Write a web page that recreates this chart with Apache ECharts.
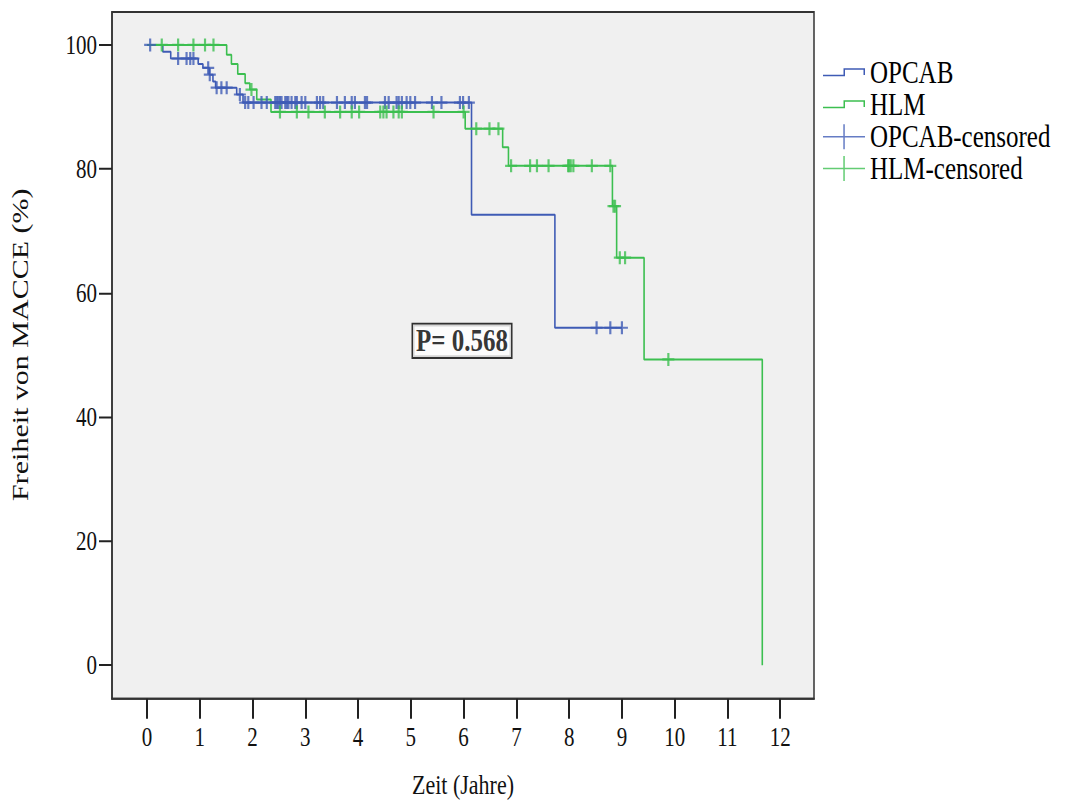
<!DOCTYPE html>
<html><head><meta charset="utf-8">
<script src="https://cdn.jsdelivr.net/npm/echarts@6/dist/echarts.min.js"></script>
<style>
html,body{margin:0;padding:0;background:#fff;width:1078px;height:805px;overflow:hidden;}
#wrap{position:relative;width:1078px;height:805px;overflow:hidden;}
#chart{position:absolute;left:0;top:0;width:1078px;height:644px;transform:scaleY(1.25);transform-origin:0 0;}
</style></head><body><div id="wrap"><div id="chart"></div></div>
<script>
// ---- data ----
const xTicks = [0,1,2,3,4,5,6,7,8,9,10,11,12];
const yTicks = [0,20,40,60,80,100];
const seriesNames = ['OPCAB','HLM','OPCAB-censored','HLM-censored'];
// Kaplan-Meier steps [time (years), survival %]
const opcabSteps = [[0,100],[0.30,98.9],[0.45,97.8],[0.97,96.9],[1.06,96.3],[1.18,95.2],[1.25,94.1],[1.30,93.1],[1.70,92.0],[1.82,90.7],[6.15,72.6],[7.73,54.4],[9.00,54.4]];
const hlmSteps = [[0,100],[1.51,98.4],[1.60,96.9],[1.72,95.3],[1.86,93.8],[1.95,92.8],[2.08,91.2],[2.35,89.2],[6.03,86.5],[6.74,83.5],[6.85,80.5],[8.82,74.0],[8.90,65.7],[9.42,49.3],[11.66,0]];
// censored observations [time, survival %]
const opcabCensored = [[0.06,100],[0.59,97.8],[0.75,97.8],[0.82,97.8],[0.88,97.8],[1.16,96.3],[1.19,95.2],[1.32,93.1],[1.41,93.1],[1.51,93.1],[1.76,92.0],
 [1.86,90.7],[1.92,90.7],[2.02,90.7],[2.17,90.7],[2.27,90.7],[2.43,90.7],[2.46,90.7],[2.49,90.7],[2.52,90.7],[2.55,90.7],[2.62,90.7],[2.65,90.7],[2.68,90.7],[2.74,90.7],[2.81,90.7],[2.84,90.7],[2.93,90.7],[3.00,90.7],[3.22,90.7],[3.28,90.7],[3.34,90.7],[3.60,90.7],[3.75,90.7],[3.88,90.7],[3.94,90.7],[4.13,90.7],[4.17,90.7],[4.51,90.7],[4.58,90.7],[4.73,90.7],[4.77,90.7],[4.83,90.7],[4.92,90.7],[4.99,90.7],[5.08,90.7],[5.40,90.7],[5.58,90.7],[5.93,90.7],[5.99,90.7],[6.10,90.7],
 [8.52,54.4],[8.78,54.4],[9.00,54.4]];
const hlmCensored = [[0.28,100],[0.59,100],[0.88,100],[1.10,100],[1.26,100],[1.98,92.8],
 [2.52,89.2],[2.84,89.2],[3.06,89.2],[3.37,89.2],[3.66,89.2],[3.88,89.2],[4.02,89.2],[4.42,89.2],[4.48,89.2],[4.54,89.2],[4.67,89.2],[4.77,89.2],[4.83,89.2],[5.43,89.2],[6.00,89.2],
 [6.24,86.5],[6.49,86.5],[6.66,86.5],
 [6.90,80.5],[7.26,80.5],[7.39,80.5],[7.61,80.5],[7.98,80.5],[8.00,80.5],[8.03,80.5],[8.08,80.5],[8.43,80.5],[8.78,80.5],
 [8.84,74.0],[8.87,74.0],[8.96,65.7],[9.06,65.7],[9.88,49.3]];
const pValueText = 'P= 0.568';
const pValueAt = [5.97, 52.3];

// ---- styles ----
const F = "'Liberation Serif','Times New Roman',serif";
const BLUE = '#3f5bb5', GREEN = '#3cbf50';
const plusPath = 'path://M45,0H65V40H110V56H65V96H45V56H0V40H45Z';
const stepIcon = 'path://M0,52H205V0H420V54H405V12H220V64H0Z';
const censIcon = 'path://M0,94H203V0H218V94H420V106H218V200H203V106H0Z';

const chart = echarts.init(document.getElementById('chart'), null, {renderer:'svg', width:1078, height:644});
const option = {
  animation:false,
  backgroundColor:'#fff',
  grid:{left:112, top:9.6, width:702, height:555.2, show:true, backgroundColor:'#f0f0f0', borderColor:'#333', borderWidth:1.5},
  legend:[
    {data:[{name:seriesNames[0],icon:stepIcon},{name:seriesNames[1],icon:stepIcon}], orient:'vertical', left:818, top:40.3, itemWidth:42, itemHeight:6.4, itemGap:0.6, selectedMode:false,
     textStyle:{fontFamily:F, fontSize:25, color:'#000', lineHeight:25}},
    {data:[{name:seriesNames[2],icon:censIcon},{name:seriesNames[3],icon:censIcon}], orient:'vertical', left:818, top:91.8, itemWidth:42, itemHeight:20, itemGap:0.5, selectedMode:false,
     textStyle:{fontFamily:F, fontSize:25, color:'#000', lineHeight:24}}
  ],
  xAxis:{type:'value', min:-0.663, max:12.64, splitLine:{show:false},
    axisLine:{show:true, onZero:false, lineStyle:{color:'#333', width:1.5}},
    axisTick:{show:true, customValues:xTicks, length:16, lineStyle:{color:'#222', width:2}},
    axisLabel:{customValues:xTicks, margin:20, fontSize:21, fontFamily:F, color:'#111'},
    name:'Zeit (Jahre)', nameLocation:'middle', nameGap:58, nameTextStyle:{fontSize:22, fontFamily:F, color:'#111'}},
  yAxis:{type:'value', min:-5.4, max:105.3, splitLine:{show:false},
    axisLine:{show:true, onZero:false, lineStyle:{color:'#333', width:1.5}},
    axisTick:{show:true, customValues:yTicks, length:13, lineStyle:{color:'#222', width:1.6}},
    axisLabel:{customValues:yTicks, margin:15, fontSize:21, fontFamily:F, color:'#111'},
    name:'Freiheit von MACCE (%)', nameLocation:'middle', nameGap:80,
    nameTextStyle:{fontSize:24, fontFamily:F, color:'#111', padding:[0,0,0,17]}},
  series:[
    {name:seriesNames[0], type:'line', step:'end', data:opcabSteps, showSymbol:false, color:BLUE, lineStyle:{color:BLUE, width:1.6}, z:2},
    {name:seriesNames[1], type:'line', step:'end', data:hlmSteps, showSymbol:false, color:GREEN, lineStyle:{color:GREEN, width:1.6}, z:3},
    {name:seriesNames[2], type:'scatter', data:opcabCensored, symbol:plusPath, symbolSize:[12,10.4], color:BLUE, itemStyle:{color:BLUE}, z:4},
    {name:seriesNames[3], type:'scatter', data:hlmCensored, symbol:plusPath, symbolSize:[12,10.4], color:GREEN, itemStyle:{color:GREEN}, z:5},
    {name:'p', type:'scatter', data:[pValueAt], symbol:'rect', symbolSize:2, itemStyle:{color:'rgba(0,0,0,0)'}, silent:true, z:10,
     label:{show:true, position:'inside', formatter:pValueText, fontFamily:F, fontSize:25, fontWeight:'bold', color:'#000',
       backgroundColor:'#fff', borderColor:'#000', borderWidth:1.5, padding:[2,3,0,3], lineHeight:24}}
  ]
};
chart.setOption(option);
</script></body></html>
